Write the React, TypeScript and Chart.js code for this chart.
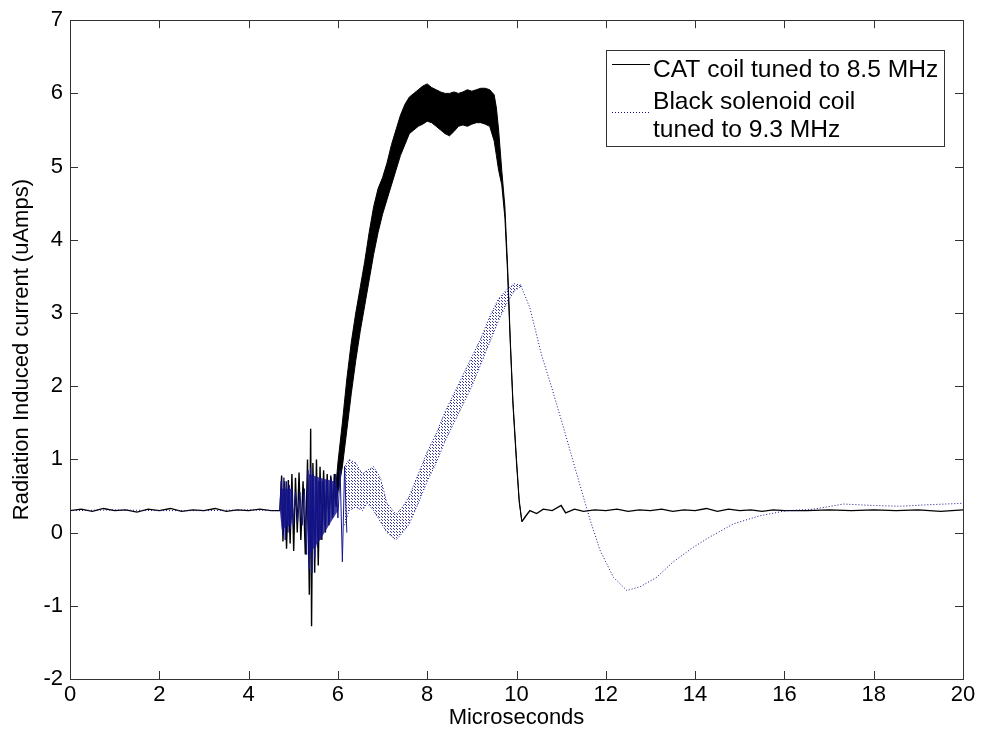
import React, { useEffect, useRef } from 'react';
import { Chart, registerables } from 'chart.js';

Chart.register(...registerables);

// ---------- axis ticks / labels ----------
const xTicks = [0, 2, 4, 6, 8, 10, 12, 14, 16, 18, 20];
const yTicks = [-2, -1, 0, 1, 2, 3, 4, 5, 6, 7];
const xTitle = 'Microseconds';
const yTitle = 'Radiation Induced current (uAmps)';
const legendLabels = ['CAT coil tuned to 8.5 MHz', 'Black solenoid coil', 'tuned to 9.3 MHz'];

// ---------- CAT coil (black) : single trace parts ----------
const catLineT = [
  0, 0.25, 0.5, 0.75, 1, 1.25, 1.5, 1.75, 2, 2.25, 2.5, 2.75, 3, 3.25, 3.5, 3.75, 4, 4.25, 4.5, 4.7,
  4.74, 4.77, 4.81, 4.85, 4.89, 4.93, 4.97, 5.01, 5.05, 5.09, 5.13, 5.17, 5.22, 5.27, 5.32, 5.36,
  5.39, 5.41, 5.44, 5.48, 5.52, 5.56, 5.6, 5.64, 5.68, 5.72, 5.76, 5.8, 5.84, 5.88, 5.92, 5.96, 6.0,
  8.0,
  10.12, 10.2, 10.3, 10.45, 10.6, 10.8, 11.0, 11.1, 11.3, 11.5, 11.75, 12, 12.25, 12.5, 12.75, 13,
  13.25, 13.5, 13.75, 14, 14.25, 14.5, 14.75, 15, 15.25, 15.5, 15.75, 16, 16.5, 17, 17.5, 18, 18.5,
  19, 19.5, 20,
];
const catLineV = [
  0.3, 0.32, 0.29, 0.33, 0.3, 0.31, 0.28, 0.32, 0.3, 0.33, 0.29, 0.31, 0.3, 0.33, 0.29, 0.31, 0.3, 0.32, 0.3, 0.3,
  0.78, -0.12, 0.7, -0.22, 0.72, -0.15, 0.8, -0.25, 0.75, 0.0, 0.82, -0.1, 0.7, -0.3, 1.0, -0.85,
  1.42, -1.28, 0.95, -0.55, 1.0, -0.45, 0.9, -0.1, 0.85, 0.0, 0.8, 0.1, 0.78, 0.2, 0.8, 0.35, 0.7,
  null,
  0.15, 0.22, 0.3, 0.26, 0.32, 0.3, 0.37, 0.27, 0.32, 0.29, 0.31, 0.3, 0.32, 0.29, 0.31, 0.3,
  0.32, 0.29, 0.31, 0.3, 0.33, 0.29, 0.32, 0.3, 0.31, 0.29, 0.31, 0.3, 0.3, 0.31, 0.3, 0.31, 0.3,
  0.31, 0.29, 0.31,
];

// ---------- CAT coil (black) : oscillation envelope ----------
const catBandT = [
  5.95, 6.0, 6.1, 6.2, 6.3, 6.4, 6.5, 6.6, 6.7, 6.8, 6.9, 7.0, 7.1, 7.2, 7.3, 7.4, 7.5, 7.6, 7.7, 7.8,
  7.9, 8.0, 8.1, 8.2, 8.3, 8.4, 8.5, 8.6, 8.7, 8.8, 8.9, 9.0, 9.1, 9.2, 9.3, 9.4, 9.5, 9.55, 9.6, 9.67,
  9.74, 9.8, 9.86, 9.92, 10.0, 10.06, 10.12,
];
const catBandHi = [
  0.6, 0.95, 1.5, 2.1, 2.6, 3.0, 3.35, 3.7, 4.1, 4.45, 4.7, 4.85, 5.05, 5.3, 5.5, 5.7, 5.85, 5.95, 6.0, 6.05,
  6.1, 6.13, 6.08, 6.05, 6.02, 6.0, 6.0, 6.02, 6.0, 6.02, 6.05, 6.03, 6.05, 6.07, 6.07, 6.05, 5.98, 5.8, 5.5, 4.95,
  4.45, 3.65, 2.65, 1.8, 1.0, 0.45, 0.15,
];
const catBandLo = [
  0.4, 0.55, 0.9, 1.4, 1.9, 2.35, 2.75, 3.1, 3.45, 3.8, 4.1, 4.35, 4.55, 4.75, 4.95, 5.15, 5.3, 5.45, 5.5, 5.55,
  5.58, 5.62, 5.6, 5.55, 5.5, 5.45, 5.42, 5.48, 5.55, 5.57, 5.55, 5.58, 5.6, 5.6, 5.58, 5.55, 5.35, 5.15, 4.95, 4.75,
  4.3, 3.55, 2.6, 1.75, 0.95, 0.42, 0.15,
];

// ---------- Black solenoid coil (blue, dotted) ----------
const solLineT = [
  0, 1, 2, 3, 4, 4.7,
  7.0,
  10.1, 10.3, 10.56, 10.79, 11.05, 11.35, 11.65, 11.87, 12.17, 12.47, 12.77, 13.14, 13.51, 13.96,
  14.33, 14.86, 15.45, 16.05, 16.65, 17.32, 18.0, 18.6, 19.2, 20,
];
const solLineV = [
  0.3, 0.31, 0.3, 0.3, 0.31, 0.3,
  null,
  3.37, 3.07, 2.43, 1.98, 1.44, 0.8, 0.17, -0.24, -0.61, -0.79, -0.74, -0.61, -0.4, -0.2,
  -0.06, 0.12, 0.23, 0.3, 0.32, 0.39, 0.37, 0.36, 0.38, 0.4,
];
const solNoiseT = [
  4.7, 4.73, 4.76, 4.79, 4.82, 4.85, 4.88, 4.91, 4.94, 4.97, 5.0, 5.05, 5.1, 5.15, 5.2, 5.25, 5.3,
  5.33, 5.36, 5.39, 5.42, 5.45, 5.48, 5.51, 5.54, 5.57, 5.6, 5.65, 5.7, 5.75, 5.8, 5.85, 5.9, 5.95,
  6.0, 6.05, 6.1, 6.15, 6.2,
];
const solNoiseV = [
  0.3, 0.7, -0.05, 0.75, -0.1, 0.7, 0.0, 0.65, 0.05, 0.6, 0.1, 0.55, 0.15, 0.55, 0.1, 0.6, -0.3,
  0.85, -0.5, 0.9, -0.55, 0.8, -0.35, 0.75, -0.2, 0.7, -0.1, 0.7, 0.1, 0.7, 0.15, 0.75, 0.25, 0.8,
  0.2, 0.85, -0.4, 0.9, 0.0,
];
const solCoreT = [4.7, 4.74, 4.95, 5.0, 5.3, 5.35, 5.6, 5.9, 6.0];
const solCoreHi = [0.3, 0.6, 0.6, 0.3, 0.3, 0.8, 0.75, 0.7, 0.6];
const solCoreLo = [0.3, 0.05, 0.1, 0.3, 0.3, -0.3, -0.1, 0.2, 0.3];
const solBandT = [
  6.15, 6.25, 6.4, 6.55, 6.65, 6.8, 6.95, 7.1, 7.3, 7.45, 7.6, 7.8, 8.0, 8.2, 8.4, 8.6, 8.8, 9.0,
  9.2, 9.4, 9.6, 9.8, 9.95, 10.1,
];
const solBandHi = [
  0.9, 1.0, 0.95, 0.8, 0.85, 0.9, 0.75, 0.4, 0.25, 0.35, 0.5, 0.8, 1.1, 1.35, 1.65, 1.9, 2.15, 2.4,
  2.65, 2.95, 3.2, 3.33, 3.4, 3.38,
];
const solBandLo = [
  0.1, 0.3, 0.35, 0.3, 0.4, 0.3, 0.15, 0.0, -0.1, 0.0, 0.12, 0.4, 0.7, 0.95, 1.25, 1.5, 1.75, 2.0,
  2.3, 2.6, 2.9, 3.15, 3.3, 3.36,
];

const FONT = '"Liberation Sans", Arial, sans-serif';
const FONT_SIZE = 22;
const LEGEND_FONT_SIZE = 24.6;
const NAVY = 'rgb(20,20,140)';

const pts = (t: number[], v: (number | null)[]) => t.map((x, i) => ({ x, y: v[i] }));

export default function App() {
  const ref = useRef<HTMLCanvasElement | null>(null);

  useEffect(() => {
    document.body.style.margin = '0';
    const canvas = ref.current;
    if (!canvas) return;

    const pc = document.createElement('canvas');
    pc.width = 3;
    pc.height = 3;
    const pctx = pc.getContext('2d')!;
    pctx.fillStyle = 'rgba(20,20,140,0.85)';
    pctx.fillRect(0, 0, 1, 1);
    pctx.fillRect(1, 1, 1, 1);
    const pattern = canvas.getContext('2d')!.createPattern(pc, 'repeat');

    const framePlugin = {
      id: 'matlabFrame',
      afterDraw(chart: any) {
        const { ctx, chartArea: a, scales } = chart;
        ctx.save();
        ctx.strokeStyle = '#333';
        ctx.lineWidth = 1;
        ctx.strokeRect(Math.round(a.left) + 0.5, Math.round(a.top) + 0.5, Math.round(a.right - a.left), Math.round(a.bottom - a.top));
        const tl = 8;
        ctx.beginPath();
        xTicks.forEach((v) => {
          const px = Math.round(scales.x.getPixelForValue(v)) + 0.5;
          ctx.moveTo(px, a.bottom);
          ctx.lineTo(px, a.bottom - tl);
          ctx.moveTo(px, a.top);
          ctx.lineTo(px, a.top + tl);
        });
        yTicks.forEach((v) => {
          const py = Math.round(scales.y.getPixelForValue(v)) + 0.5;
          ctx.moveTo(a.left, py);
          ctx.lineTo(a.left + tl, py);
          ctx.moveTo(a.right, py);
          ctx.lineTo(a.right - tl, py);
        });
        ctx.stroke();

        // legend
        ctx.font = `${LEGEND_FONT_SIZE}px ${FONT}`;
        const tw = Math.max(...legendLabels.map((s) => ctx.measureText(s).width));
        const w = Math.round(tw + 53);
        const h = 96;
        const right = Math.round(a.right) - 19;
        const left = right - w;
        const top = Math.round(a.top) + 30;
        ctx.fillStyle = '#fff';
        ctx.fillRect(left, top, w, h);
        ctx.strokeStyle = '#333';
        ctx.strokeRect(left + 0.5, top + 0.5, w, h);
        ctx.strokeStyle = '#000';
        ctx.beginPath();
        ctx.moveTo(left + 6, top + 14.5);
        ctx.lineTo(left + 44, top + 14.5);
        ctx.stroke();
        ctx.strokeStyle = NAVY;
        ctx.setLineDash([1, 2]);
        ctx.beginPath();
        ctx.moveTo(left + 6, top + 62.5);
        ctx.lineTo(left + 44, top + 62.5);
        ctx.stroke();
        ctx.setLineDash([]);
        ctx.fillStyle = '#000';
        ctx.textAlign = 'left';
        ctx.textBaseline = 'alphabetic';
        ctx.fillText(legendLabels[0], left + 47, top + 27);
        ctx.fillText(legendLabels[1], left + 47, top + 59);
        ctx.fillText(legendLabels[2], left + 47, top + 87);
        ctx.restore();
      },
    };

    const chart = new Chart(canvas, {
      type: 'line',
      data: {
        datasets: [
          {
            label: 'CAT hi',
            data: pts(catBandT, catBandHi),
            borderColor: '#000',
            borderWidth: 1,
            pointRadius: 0,
            fill: false,
            order: 3,
          },
          {
            label: 'CAT lo',
            data: pts(catBandT, catBandLo),
            borderColor: '#000',
            borderWidth: 1,
            pointRadius: 0,
            fill: '-1',
            backgroundColor: '#000',
            order: 3,
          },
          {
            label: legendLabels[0],
            data: pts(catLineT, catLineV),
            borderColor: '#000',
            borderWidth: 1.4,
            pointRadius: 0,
            fill: false,
            order: 2,
          },
          {
            label: 'sol hi',
            data: pts(solBandT, solBandHi),
            borderColor: NAVY,
            borderWidth: 1,
            borderDash: [1, 2],
            pointRadius: 0,
            fill: false,
            order: 1,
          },
          {
            label: 'sol lo',
            data: pts(solBandT, solBandLo),
            borderColor: NAVY,
            borderWidth: 1,
            borderDash: [1, 2],
            pointRadius: 0,
            fill: '-1',
            backgroundColor: pattern as any,
            order: 1,
          },
          {
            label: 'Black solenoid coil tuned to 9.3 MHz',
            data: pts(solLineT, solLineV),
            borderColor: NAVY,
            borderWidth: 1,
            borderDash: [1, 2],
            pointRadius: 0,
            fill: false,
            order: 1,
          },
          {
            label: 'sol core hi',
            data: pts(solCoreT, solCoreHi),
            borderColor: 'rgba(20,20,140,0)',
            borderWidth: 0,
            pointRadius: 0,
            fill: false,
            order: 0,
          },
          {
            label: 'sol core lo',
            data: pts(solCoreT, solCoreLo),
            borderColor: 'rgba(20,20,140,0)',
            borderWidth: 0,
            pointRadius: 0,
            fill: '-1',
            backgroundColor: 'rgba(20,20,140,0.8)',
            order: 0,
          },
          {
            label: 'sol noise',
            data: pts(solNoiseT, solNoiseV),
            borderColor: NAVY,
            borderWidth: 1,
            pointRadius: 0,
            fill: false,
            order: 0,
          },
        ],
      },
      options: {
        responsive: false,
        animation: false,
        devicePixelRatio: 1,
        layout: { padding: { top: 18, right: 19, left: 0, bottom: 0 } },
        plugins: { legend: { display: false }, tooltip: { enabled: false } },
        scales: {
          x: {
            type: 'linear',
            min: 0,
            max: 20,
            afterBuildTicks: (s: any) => {
              s.ticks = xTicks.map((v) => ({ value: v }));
            },
            afterFit: (s: any) => {
              s.height = 61;
            },
            grid: { display: false, drawTicks: false },
            border: { display: false },
            ticks: {
              color: '#000',
              padding: 3,
              maxRotation: 0,
              autoSkip: false,
              font: { family: FONT, size: FONT_SIZE },
            },
            title: {
              display: true,
              text: xTitle,
              color: '#000',
              padding: { top: 0, bottom: 9 },
              font: { family: FONT, size: FONT_SIZE },
            },
          },
          y: {
            type: 'linear',
            min: -2,
            max: 7,
            afterBuildTicks: (s: any) => {
              s.ticks = yTicks.map((v) => ({ value: v }));
            },
            afterFit: (s: any) => {
              s.width = 70;
            },
            grid: { display: false, drawTicks: false },
            border: { display: false },
            ticks: {
              color: '#000',
              padding: 7,
              autoSkip: false,
              font: { family: FONT, size: FONT_SIZE },
            },
            title: {
              display: true,
              text: yTitle,
              color: '#000',
              padding: { top: 9, bottom: 0 },
              font: { family: FONT, size: FONT_SIZE },
            },
          },
        },
      },
      plugins: [framePlugin],
    });

    return () => chart.destroy();
  }, []);

  return (
    <div style={{ width: 982, height: 740, background: '#fff' }}>
      <canvas ref={ref} width={982} height={740} style={{ display: 'block' }} />
    </div>
  );
}
